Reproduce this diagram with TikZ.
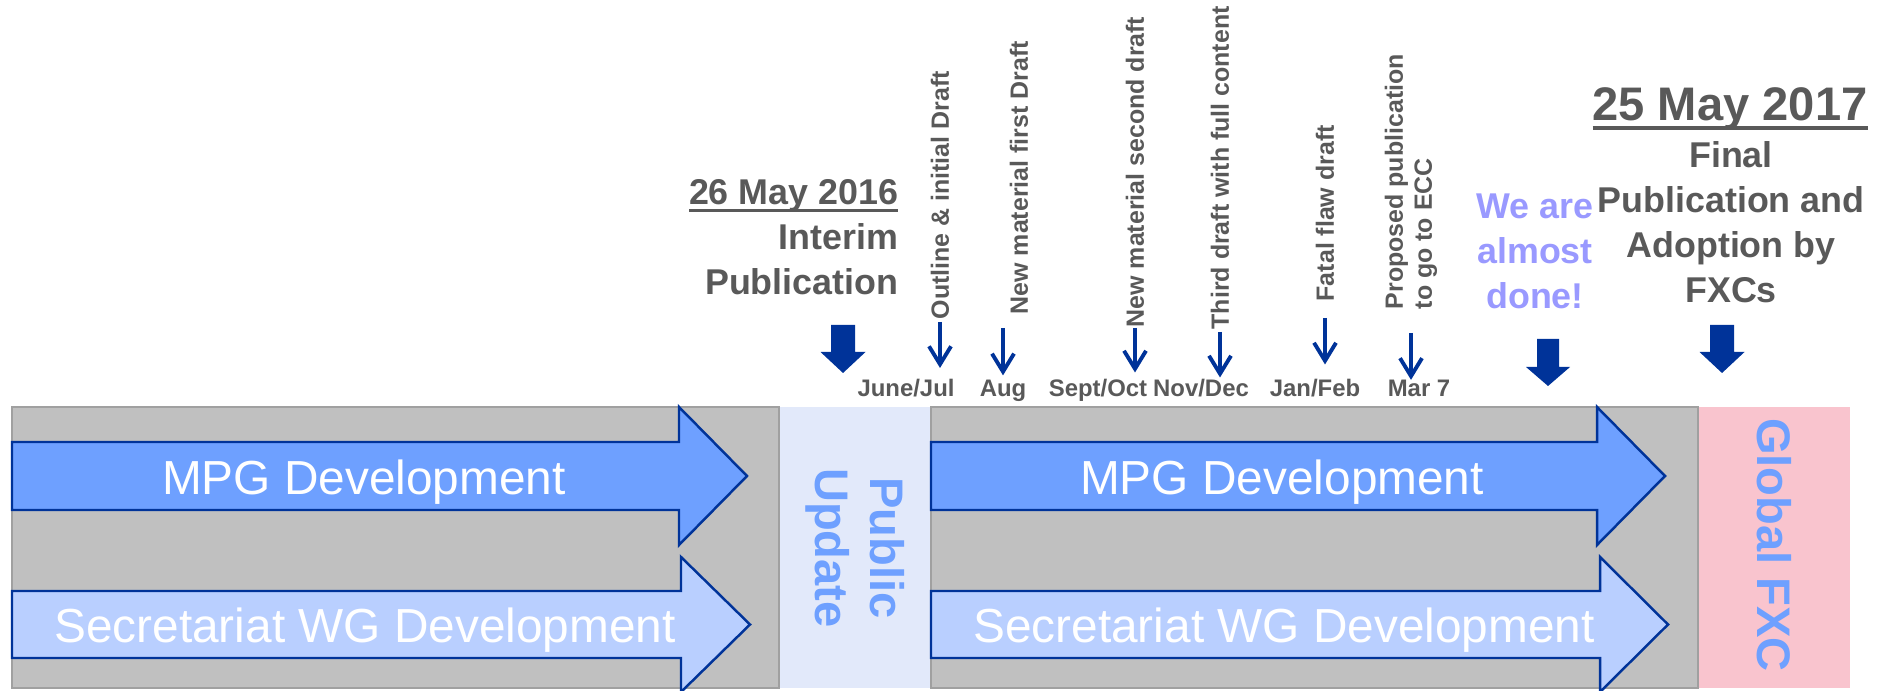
\documentclass[tikz,border=0pt]{standalone}
\usepackage{fontspec}
\setmainfont{Liberation Sans}
\usepackage{tikz}
\usetikzlibrary{arrows.meta}
\usepackage{xcolor}
\definecolor{phasegray}{RGB}{192,192,192}
\definecolor{edgegray}{RGB}{160,160,160}
\definecolor{navy}{RGB}{0,51,153}
\definecolor{mpgblue}{RGB}{110,160,255}
\definecolor{wgblue}{RGB}{185,207,255}
\definecolor{textgray}{RGB}{89,89,89}
\definecolor{donepurple}{RGB}{153,153,255}
\definecolor{publicfill}{RGB}{226,233,250}
\definecolor{fxcfill}{RGB}{249,196,206}
\newlength\ulwd
\newcommand{\uldate}[1]{\settowidth{\ulwd}{#1}\rlap{\rule[-0.19em]{\ulwd}{0.08em}}#1}
\tikzset{
	phase/.style={fill=phasegray, draw=edgegray, line width=0.6pt},
	devarrow/.style={draw=navy, line width=0.7pt, line join=miter},
	devtext/.style={text=white, font=\fontsize{13.6}{16}\selectfont},
	sidetext/.style={text=mpgblue, font=\fontsize{13.4}{15.6}\selectfont\bfseries, rotate=-90, align=center},
	milestone/.style={text=textgray, font=\fontsize{10.2}{12.8}\selectfont\bfseries, inner sep=0pt},
	tasklabel/.style={text=textgray, font=\fontsize{7.1}{8.25}\selectfont\bfseries, rotate=90, anchor=west, inner sep=0pt, align=left},
	monthlabel/.style={text=textgray, font=\fontsize{6.8}{8}\selectfont\bfseries, anchor=base, inner sep=0pt},
	tick/.style={navy, line width=1.1pt, -{Straight Barb[length=1.8mm,width=2.2mm]}},
	bigarrow/.style={fill=navy}
}

\begin{document}
\begin{tikzpicture}
		\useasboundingbox (0, 0) rectangle (18.89, 6.90);

		\fill[publicfill] (7.79, 0.02) rectangle (9.31, 2.83);
		\fill[fxcfill] (16.98, 0.02) rectangle (18.50, 2.83);
		\draw[phase] (0.12, 0.02) rectangle (7.79, 2.83);
		\draw[phase] (9.31, 0.02) rectangle (16.98, 2.83);

		\draw[devarrow, fill=mpgblue] (0.12, 2.48) -- (6.79, 2.48) -- (6.79, 2.83) -- (7.47, 2.14) -- (6.79, 1.45) -- (6.79, 1.80) -- (0.12, 1.80) -- cycle;
		\draw[devarrow, fill=wgblue] (0.12, 0.99) -- (6.81, 0.99) -- (6.81, 1.33) -- (7.50, 0.655) -- (6.81, -0.02) -- (6.81, 0.32) -- (0.12, 0.32) -- cycle;
		\draw[devarrow, fill=mpgblue] (9.31, 2.48) -- (15.97, 2.48) -- (15.97, 2.83) -- (16.65, 2.14) -- (15.97, 1.45) -- (15.97, 1.80) -- (9.31, 1.80) -- cycle;
		\draw[devarrow, fill=wgblue] (9.31, 0.99) -- (16.00, 0.99) -- (16.00, 1.33) -- (16.68, 0.655) -- (16.00, -0.02) -- (16.00, 0.32) -- (9.31, 0.32) -- cycle;

		\node[devtext] (mpgleft) at (3.64, 2.08) {MPG Development};
		\node[devtext] (wgleft) at (3.65, 0.60) {Secretariat WG Development};
		\node[devtext] (mpgright) at (12.82, 2.08) {MPG Development};
		\node[devtext] (wgright) at (12.84, 0.60) {Secretariat WG Development};

		\node[sidetext] (public) at (8.55, 1.42) {Public\\Update};
		\node[sidetext] (global) at (17.74, 1.45) {Global FXC};

		\node[milestone, align=right, anchor=north east] (interim) at (8.99, 5.11) {\uldate{26 May 2016}\\Interim\\Publication};
		\node[milestone, text=donepurple, align=center, anchor=north] (done) at (15.35, 4.97) {We are\\almost\\done!};
		\node[milestone, font=\fontsize{13.4}{16}\selectfont\bfseries, anchor=north] (finaldate) at (17.30, 6.03) {\uldate{25 May 2017}};
		\node[milestone, align=center, anchor=north] (final) at (17.31, 5.49) {Final\\Publication and\\Adoption by\\FXCs};

		\fill[bigarrow] (8.31, 3.65) -- (8.55, 3.65) -- (8.55, 3.38) -- (8.655, 3.38) -- (8.43, 3.17) -- (8.205, 3.38) -- (8.31, 3.38) -- cycle;
		\fill[bigarrow] (15.37, 3.51) -- (15.59, 3.51) -- (15.59, 3.23) -- (15.70, 3.23) -- (15.48, 3.04) -- (15.26, 3.23) -- (15.37, 3.23) -- cycle;
		\fill[bigarrow] (17.10, 3.65) -- (17.34, 3.65) -- (17.34, 3.38) -- (17.445, 3.38) -- (17.22, 3.17) -- (16.995, 3.38) -- (17.10, 3.38) -- cycle;

		\node[tasklabel] (outline) at (9.40, 3.70) {Outline \& initial Draft};
		\node[tasklabel] (first) at (10.19, 3.75) {New material first Draft};
		\node[tasklabel] (second) at (11.35, 3.62) {New material second draft};
		\node[tasklabel] (third) at (12.20, 3.60) {Third draft with full content};
		\node[tasklabel] (fatal) at (13.25, 3.88) {Fatal flaw draft};
		\node[tasklabel] (proposed) at (14.11, 3.80) {Proposed publication\\to go to ECC};

		\node[monthlabel] (junjul) at (9.06, 2.93) {June/Jul};
		\node[monthlabel] (aug) at (10.03, 2.93) {Aug};
		\node[monthlabel] (sepoct) at (10.98, 2.93) {Sept/Oct};
		\node[monthlabel] (novdec) at (12.01, 2.93) {Nov/Dec};
		\node[monthlabel] (janfeb) at (13.15, 2.93) {Jan/Feb};
		\node[monthlabel] (mar) at (14.19, 2.93) {Mar 7};

		\draw[tick, shorten <=0.02cm, shorten >=0.11cm] (outline.west) -- (outline.west |- junjul.north);
		\draw[tick, shorten <=0.13cm, shorten >=0.045cm] (aug.north |- first.west) -- (aug.north);
		\draw[tick, shorten >=0.065cm] (second.west) -- (second.west |- sepoct.north);
		\draw[tick, shorten <=0.02cm, shorten >=0.015cm] (third.west) -- (third.west |- novdec.north);
		\draw[tick, shorten <=0.16cm, shorten >=0.145cm] (fatal.west) -- (fatal.west |- janfeb.north);
		\draw[tick, shorten <=0.23cm] (proposed.west) -- (proposed.west |- mar.north);
	\end{tikzpicture}
\end{document}
